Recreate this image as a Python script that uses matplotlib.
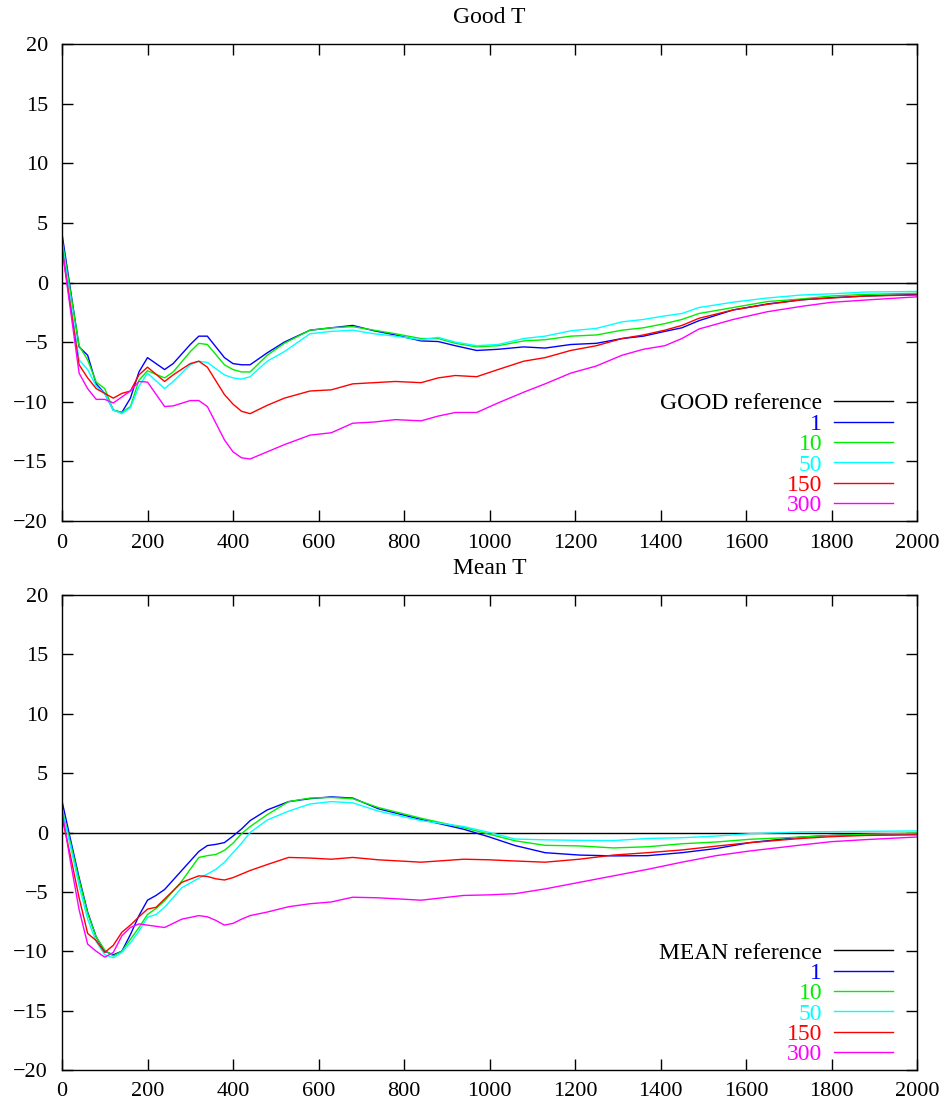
import numpy as np
import matplotlib
matplotlib.use("Agg")
import matplotlib.pyplot as plt

plt.rcParams['font.family'] = ['Liberation Serif', 'DejaVu Serif']

# ---- data ----
x_top = [0, 40, 60, 80, 100, 120, 140, 160, 180, 200, 240, 260, 300, 320, 340, 380,
         400, 420, 440, 480, 520, 580, 630, 680, 730, 780, 840, 880, 920, 970, 1020,
         1080, 1130, 1190, 1250, 1310, 1360, 1410, 1450, 1490, 1570, 1650, 1730, 1800,
         1880, 2000]

good_1 = [4.1, -5.4, -6.1, -8.5, -9.3, -10.7, -10.9, -9.7, -7.5, -6.3, -7.3, -6.8, -5.2,
          -4.5, -4.5, -6.3, -6.8, -6.9, -6.9, -5.9, -5.0, -4.0, -3.8, -3.6, -4.05, -4.4,
          -4.9, -4.95, -5.3, -5.7, -5.6, -5.4, -5.5, -5.2, -5.1, -4.7, -4.5, -4.1, -3.8,
          -3.2, -2.3, -1.8, -1.45, -1.27, -1.13, -1.0]
good_10 = [3.6, -5.3, -6.5, -8.35, -8.9, -10.7, -10.9, -10.4, -8.2, -7.4, -8.0, -7.5, -5.8,
           -5.1, -5.2, -6.9, -7.3, -7.5, -7.5, -6.1, -5.1, -4.0, -3.8, -3.7, -4.0, -4.3,
           -4.7, -4.7, -5.1, -5.4, -5.3, -4.9, -4.8, -4.5, -4.4, -4.0, -3.8, -3.45, -3.1,
           -2.6, -2.1, -1.6, -1.38, -1.13, -1.0, -0.9]
good_50 = [3.4, -6.5, -7.3, -8.7, -9.3, -10.7, -11.0, -10.5, -8.7, -7.6, -8.9, -8.3, -6.9,
           -6.6, -6.7, -7.75, -8.0, -8.1, -7.9, -6.6, -5.8, -4.3, -4.1, -4.0, -4.3, -4.5,
           -4.8, -4.6, -5.0, -5.3, -5.2, -4.7, -4.5, -4.05, -3.85, -3.3, -3.1, -2.8, -2.6,
           -2.1, -1.65, -1.3, -1.05, -0.95, -0.8, -0.75]
good_150 = [2.9, -6.9, -8.0, -8.9, -9.3, -9.7, -9.3, -9.1, -7.75, -7.1, -8.3, -7.75, -6.8,
            -6.6, -7.1, -9.4, -10.2, -10.8, -11.0, -10.3, -9.7, -9.1, -9.0, -8.5, -8.4,
            -8.3, -8.4, -8.0, -7.8, -7.9, -7.3, -6.6, -6.3, -5.7, -5.3, -4.7, -4.4, -4.0,
            -3.6, -3.0, -2.3, -1.83, -1.45, -1.3, -1.13, -1.05]
good_300 = [2.9, -7.6, -8.9, -9.8, -9.8, -10.1, -9.6, -9.1, -8.3, -8.35, -10.4, -10.35,
            -9.9, -9.9, -10.4, -13.2, -14.2, -14.7, -14.8, -14.2, -13.6, -12.8, -12.6,
            -11.8, -11.7, -11.5, -11.6, -11.2, -10.9, -10.9, -10.1, -9.2, -8.5, -7.6,
            -7.0, -6.1, -5.6, -5.3, -4.7, -3.9, -3.1, -2.45, -2.0, -1.66, -1.47, -1.2]

x_bot = [0, 20, 40, 60, 80, 100, 120, 140, 160, 180, 200, 220, 240, 280, 320, 340, 360,
         380, 400, 420, 440, 480, 530, 580, 630, 680, 740, 840, 940, 1000, 1060, 1130,
         1210, 1290, 1370, 1450, 1530, 1610, 1730, 1800, 1880, 2000]

mean_1 = [2.65, -0.6, -3.8, -6.7, -8.8, -10.0, -10.3, -10.0, -8.6, -7.0, -5.7, -5.3, -4.8,
          -3.2, -1.6, -1.1, -1.0, -0.85, -0.3, 0.3, 1.0, 1.9, 2.6, 2.85, 3.0, 2.9, 2.0,
          1.1, 0.27, -0.38, -1.1, -1.7, -1.9, -1.97, -1.95, -1.7, -1.35, -0.85, -0.38,
          -0.25, -0.15, -0.1]
mean_10 = [2.0, -0.9, -4.0, -6.8, -8.8, -9.9, -10.4, -10.0, -9.0, -8.0, -6.9, -6.4, -5.75,
           -4.1, -2.1, -1.95, -1.85, -1.5, -0.9, -0.1, 0.5, 1.5, 2.6, 2.9, 2.95, 2.85, 2.1,
           1.2, 0.4, -0.15, -0.7, -1.08, -1.13, -1.3, -1.2, -0.95, -0.8, -0.57, -0.38,
           -0.25, -0.15, -0.05]
mean_50 = [1.9, -1.2, -4.5, -7.3, -9.2, -10.3, -10.55, -10.1, -9.3, -8.3, -7.15, -6.9,
           -6.3, -4.65, -3.85, -3.5, -3.1, -2.5, -1.7, -0.9, 0.0, 1.05, 1.8, 2.4, 2.6, 2.5,
           1.8, 1.0, 0.5, 0.0, -0.55, -0.62, -0.66, -0.68, -0.5, -0.44, -0.3, -0.1, 0.05,
           0.07, 0.1, 0.13]
mean_150 = [1.3, -2.0, -5.5, -8.5, -9.1, -10.1, -9.5, -8.4, -7.8, -7.1, -6.45, -6.3, -5.6,
            -4.2, -3.65, -3.7, -3.9, -4.0, -3.8, -3.5, -3.2, -2.7, -2.1, -2.15, -2.25,
            -2.1, -2.3, -2.5, -2.25, -2.3, -2.4, -2.5, -2.25, -1.9, -1.7, -1.47, -1.15,
            -0.85, -0.5, -0.35, -0.25, -0.2]
mean_300 = [1.8, -2.5, -6.5, -9.4, -10.0, -10.5, -10.1, -8.7, -8.0, -7.7, -7.8, -7.9,
            -8.0, -7.3, -7.0, -7.1, -7.4, -7.8, -7.65, -7.3, -7.0, -6.7, -6.25, -6.0,
            -5.85, -5.45, -5.5, -5.7, -5.3, -5.25, -5.15, -4.75, -4.2, -3.65, -3.1, -2.5,
            -1.95, -1.55, -1.05, -0.77, -0.6, -0.38]

labels = ['1', '10', '50', '150', '300']
colors = ['#0000ff', '#00ee00', '#00ffff', '#ff0000', '#ff00ff']
ref_x = [0, 2000]
ref_y = [0, 0]

fig = plt.figure(figsize=(9.48, 11.06), dpi=100)
ax1 = fig.add_axes([62/948, 1-521/1106, 855/948, 477/1106])
ax2 = fig.add_axes([62/948, 1-1070/1106, 855/948, 475/1106])


def panel(ax, title, refname, x, series):
    ax.plot(ref_x, ref_y, color='black', lw=1.0, label=refname)
    for ys, lab, c in zip(series, labels, colors):
        ax.plot(x, ys, color=c, lw=1.0, label=lab)
    ax.set_xlim(0, 2000)
    ax.set_ylim(-20, 20)
    ax.set_xticks(np.arange(0, 2001, 200))
    ax.set_yticks(np.arange(-20, 21, 5))
    ax.tick_params(direction='in', top=True, right=True, length=8, width=1,
                   labelsize=16)
    ax.tick_params(axis='x', pad=9)
    ax.tick_params(axis='y', pad=10)
    for s in ax.spines.values():
        s.set_linewidth(1.0)
    ax.set_title(title, fontsize=17, pad=15)
    leg = ax.legend(loc='lower right', bbox_to_anchor=(0.972, 0.01),
                    borderaxespad=0, borderpad=0, frameon=False,
                    markerfirst=False, labelcolor='linecolor', fontsize=17,
                    handlelength=2.5, handletextpad=0.5, labelspacing=-0.05)
    for t in leg.get_texts():
        t.set_ha('right')


panel(ax1, 'Good T', 'GOOD reference', x_top,
      [good_1, good_10, good_50, good_150, good_300])
panel(ax2, 'Mean T', 'MEAN reference', x_bot,
      [mean_1, mean_10, mean_50, mean_150, mean_300])

fig.savefig('out.png', dpi=100)
